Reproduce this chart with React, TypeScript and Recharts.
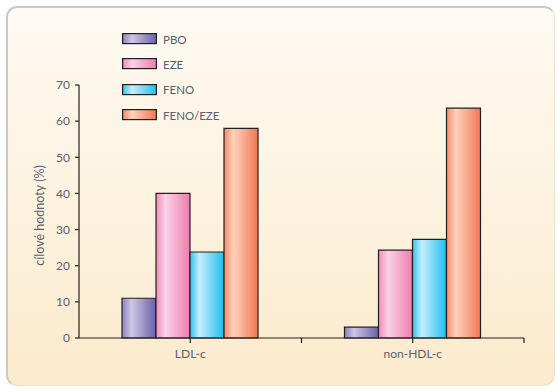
import { BarChart, Bar, XAxis, YAxis, Legend } from 'recharts';

const categories = ['LDL-c', 'non-HDL-c'];
const seriesNames = ['PBO', 'EZE', 'FENO', 'FENO/EZE'];
const pbo = [11, 3];
const eze = [40, 24.3];
const feno = [23.8, 27.3];
const fenoEze = [58, 63.6];
const yTicks = [0, 10, 20, 30, 40, 50, 60, 70];

const data = categories.map((name, i) => ({
  name,
  PBO: pbo[i],
  EZE: eze[i],
  FENO: feno[i],
  'FENO/EZE': fenoEze[i],
}));

// left edge, highlight, right edge
const GRADS: Record<string, [string, string, string]> = {
  PBO: ['#8983c0', '#cdc6e5', '#6a62a9'],
  EZE: ['#f08bba', '#fbd2e4', '#ee7cb0'],
  FENO: ['#34c3ef', '#c6edfc', '#1ebfee'],
  'FENO/EZE': ['#f48b69', '#fdd2bb', '#f07753'],
};
const gid = (n: string) => 'g-' + n.replace('/', '-');

const TEXT = '#5a606e';
const AXIS = '#231f20';
const FONT = 'Lato, "Open Sans", sans-serif';
const BAND = 222.5;

function XTick(props: any) {
  const { x, y, payload } = props;
  return (
    <g>
      <line x1={x + BAND / 2} x2={x + BAND / 2} y1={y - 5} y2={y} stroke={AXIS} strokeWidth={1.2} />
      <text x={x} y={y + 15} textAnchor="middle" fill={TEXT} fontSize={12} fontFamily={FONT}>
        {payload.value}
      </text>
    </g>
  );
}

function LegendBox() {
  return (
    <div style={{ fontFamily: FONT, fontSize: 11.5, color: TEXT }}>
      {seriesNames.map((n) => (
        <div key={n} style={{ display: 'flex', alignItems: 'center', height: 25.3 }}>
          <svg width={35} height={12} style={{ display: 'block' }}>
            <rect x={0.6} y={0.6} width={33.8} height={10} fill={`url(#${gid(n)})`} stroke={AXIS} strokeWidth={1.2} />
          </svg>
          <span style={{ marginLeft: 6 }}>{n}</span>
        </div>
      ))}
    </div>
  );
}

export default function App() {
  return (
    <div style={{ position: 'absolute', left: 0, top: 0, width: 560, height: 392, background: '#ffffff' }}>
      <div
        style={{
          position: 'absolute',
          left: 6,
          top: 6,
          width: 546,
          height: 377,
          borderLeft: '2px solid #c9c9c9',
          borderTop: '2px solid #c9c9c9',
          borderRight: '1px solid #ebe2cf',
          borderBottom: '1px solid #ebe2cf',
          borderRadius: 11,
          background: 'linear-gradient(to bottom, #fefaf2 0%, #fcf1dc 60%, #fbeacc 100%)',
        }}
      />
      <div style={{ position: 'absolute', left: 0, top: 0 }}>
        <BarChart
          width={560}
          height={392}
          data={data}
          margin={{ top: 85, right: 36, bottom: 24, left: 29 }}
          barGap={0}
          barSize={34}
        >
          <defs>
            {seriesNames.map((n) => (
              <linearGradient key={n} id={gid(n)} x1="0" y1="0" x2="1" y2="0">
                <stop offset="0%" stopColor={GRADS[n][0]} />
                <stop offset="28%" stopColor={GRADS[n][1]} />
                <stop offset="100%" stopColor={GRADS[n][2]} />
              </linearGradient>
            ))}
          </defs>
          <XAxis
            dataKey="name"
            height={30}
            axisLine={{ stroke: AXIS, strokeWidth: 1.2 }}
            tickLine={{ stroke: AXIS, strokeWidth: 1.2 }}
            tickSize={5}
            tickMargin={0}
            tick={<XTick />}
            interval={0}
          />
          <YAxis
            width={50}
            domain={[0, 70]}
            ticks={yTicks}
            interval={0}
            axisLine={{ stroke: AXIS, strokeWidth: 1.2 }}
            tickLine={{ stroke: AXIS, strokeWidth: 1.2 }}
            tickSize={4}
            tickMargin={5}
            tick={{ fill: TEXT, fontSize: 12, fontFamily: FONT }}
            label={{
              value: 'cílové hodnoty (%)',
              angle: -90,
              position: 'center',
              dx: -14,
              dy: 4,
              fill: TEXT,
              fontSize: 12.5,
              fontFamily: FONT,
            }}
          />
          <Legend
            layout="vertical"
            align="center"
            verticalAlign="middle"
            content={<LegendBox />}
            wrapperStyle={{ position: 'absolute', left: 122, top: 26.5, width: 120, height: 'auto' }}
          />
          {seriesNames.map((n) => (
            <Bar
              key={n}
              dataKey={n}
              fill={`url(#${gid(n)})`}
              stroke={AXIS}
              strokeWidth={1.2}
              isAnimationActive={false}
            />
          ))}
        </BarChart>
      </div>
    </div>
  );
}
